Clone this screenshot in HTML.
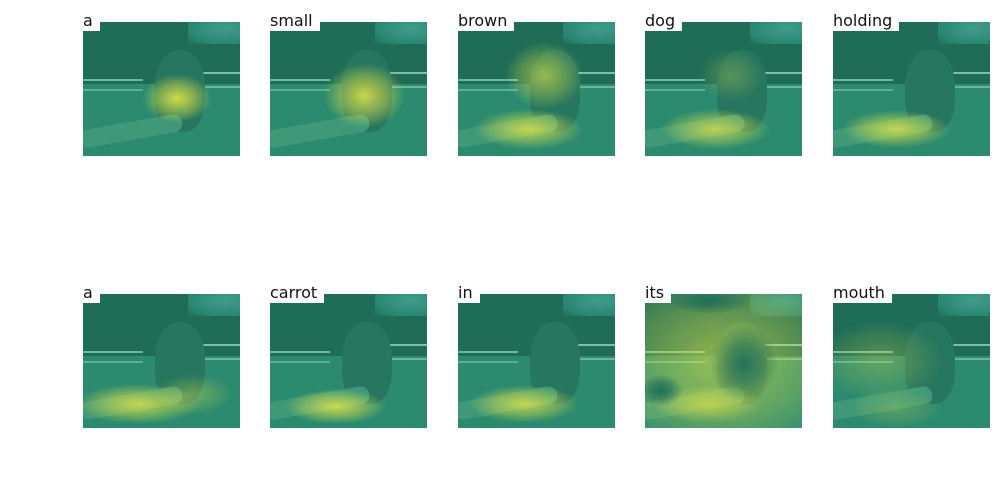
<!DOCTYPE html>
<html><head><meta charset="utf-8">
<style>
body{margin:0;width:1000px;height:478px;background:#fff;position:relative;overflow:hidden;font-family:"DejaVu Sans","Liberation Sans",sans-serif}
.panel{position:absolute;width:157px;height:134px;overflow:hidden;background:#2c8a6f}
.panel div{position:absolute}
.lbl{position:absolute;background:#fff;font-size:16px;line-height:18px;padding:3px 7px 0 0;color:#111;height:19px}
</style></head><body>
<script>
const words=["a","small","brown","dog","holding","a","carrot","in","its","mouth"];
// blobs per panel: [cx%, cy%, rx%, ry%, alpha]
const blobs=[
 [[60,57,22,18,0.9]],
 [[60,55,26,24,0.85]],
 [[55,40,25,25,0.6],[45,80,35,15,0.8]],
 [[45,80,35,15,0.75],[55,40,20,20,0.25]],
 [[40,80,35,14,0.8]],
 [[35,82,40,15,0.8],[70,75,25,15,0.35]],
 [[42,84,32,13,0.85]],
 [[42,82,35,14,0.8]],
 [[50,50,85,75,0.6],[40,82,35,14,0.6]],
 [[30,50,40,30,0.3],[40,85,30,15,0.25]]
];
const darks=[[],[],[],[],[],[],[],[],[[63,52,22,28],[10,72,14,12],[40,5,28,10]],[]];
const xs=[83,270,458,645,833], ys=[22,294];
words.forEach((w,i)=>{
 const p=document.createElement('div');
 p.className='panel';
 
 
 p.style.left=xs[i%5]+'px';p.style.top=ys[Math.floor(i/5)]+'px';
 let h='';
 h+='<div style="left:0;top:0;width:157px;height:62px;background:#1f6d57"></div>';
 h+='<div style="left:105px;top:0;width:52px;height:22px;background:radial-gradient(ellipse at 70% 30%,#3f9e8a,#2a8672 70%,transparent)"></div>';
 h+='<div style="left:0;top:57px;width:60px;height:8px;border-top:2px solid #6fb89f;border-bottom:2px solid #5fae94"></div>';
 h+='<div style="left:105px;top:50px;width:52px;height:12px;border-top:2px solid #7cc0a8;border-bottom:2px solid #6ab59c"></div>';
 h+='<div style="left:72px;top:28px;width:50px;height:82px;border-radius:45% 45% 40% 40%;background:#27765f"></div>';
 h+='<div style="left:-5px;top:100px;width:105px;height:18px;border-radius:10px;background:#3f9878;transform:rotate(-10deg)"></div>';
 blobs[i].forEach(b=>{h+=`<div style="left:0;top:0;width:157px;height:134px;background:radial-gradient(ellipse ${b[2]*1.57}px ${b[3]*1.34}px at ${b[0]}% ${b[1]}%,rgba(228,230,70,${b[4]}),rgba(228,230,70,${b[4]*0.45}) 60%,rgba(228,230,70,0) 100%)"></div>`});
 darks[i].forEach(b=>{h+=`<div style="left:0;top:0;width:157px;height:134px;background:radial-gradient(ellipse ${b[2]*1.57}px ${b[3]*1.34}px at ${b[0]}% ${b[1]}%,rgba(30,110,90,0.95),rgba(30,110,90,0.6) 50%,rgba(30,110,90,0) 100%)"></div>`});
 p.innerHTML=h;
 document.body.appendChild(p);
 const l=document.createElement('div');
 l.className='lbl';
 
 
 l.textContent=w;
 l.style.left=xs[i%5]+'px';l.style.top=(ys[Math.floor(i/5)]-13)+'px';
 document.body.appendChild(l);
});
</script>
</body></html>
